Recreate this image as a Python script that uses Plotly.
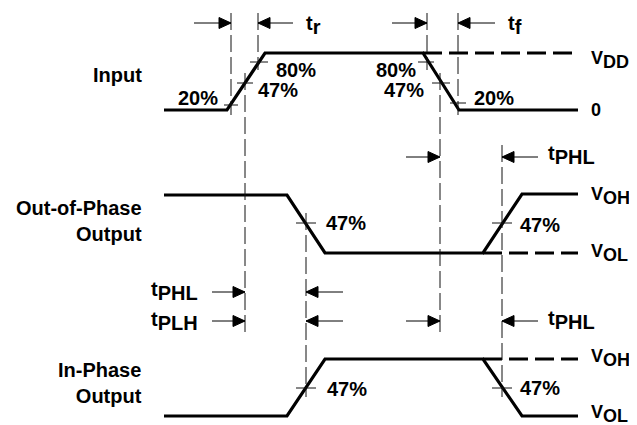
import plotly.graph_objects as go

# waveform breakpoints: time position and level (diagram units, y grows downward)
input_t = [164, 227, 265, 423, 459, 578]
input_v = [110, 110, 53, 53, 110, 110]
outphase_t = [164, 287, 325, 483, 522, 578]
outphase_v = [195, 195, 253, 253, 194, 194]
inphase_t = [164, 287, 325, 483, 522, 578]
inphase_v = [416, 416, 359, 359, 416, 416]

# dashed level continuations: start, end, level
level_ext_start = [423, 483, 483]
level_ext_end = [578, 578, 578]
level_ext_v = [53, 253, 359]

# vertical dashed reference lines: time, top, bottom
ref_t = [231, 245, 258, 427, 440, 458, 306, 502]
ref_top = [13, 73, 13, 13, 73, 13, 213, 145]
ref_bot = [115, 333, 70, 70, 333, 115, 397, 397]

# crossing marks: time, level, half width
cross_t = [231, 245, 259, 426, 441, 458, 306, 502, 306, 502]
cross_v = [105, 83, 62, 62, 83, 103, 223, 223, 388, 388]
cross_w = [7, 8, 9, 8, 9, 8, 10, 10, 10, 10]

# timing arrows: tip time, row, direction (+1 points right), tail time
arrow_tip = [231, 258, 427, 458, 440, 502, 245, 306, 245, 306, 440, 502]
arrow_row = [23, 23, 23, 23, 157, 157, 292, 292, 321, 321, 321, 321]
arrow_dir = [1, -1, 1, -1, 1, -1, 1, -1, 1, -1, 1, -1]
arrow_tail = [194, 293, 392, 495, 406, 538, 212, 343, 212, 343, 406, 538]

FONT = "Liberation Sans, Arial, sans-serif"
fs = 20
vs = 18  # level names on the right edge
PAD = 8  # page body margin, the plot is drawn 8px in from the corner

fig = go.Figure()

for t, v in [(input_t, input_v), (outphase_t, outphase_v), (inphase_t, inphase_v)]:
    fig.add_trace(go.Scatter(x=t, y=v, mode="lines",
                             line=dict(color="black", width=3.2)))

for a, b, v in zip(level_ext_start, level_ext_end, level_ext_v):
    fig.add_trace(go.Scatter(x=[a, b], y=[v, v], mode="lines",
                             line=dict(color="black", width=3.2, dash="19px,7px")))

for t, a, b in zip(ref_t, ref_top, ref_bot):
    fig.add_trace(go.Scatter(x=[t, t], y=[a, b], mode="lines",
                             line=dict(color="#111", width=1, dash="17px,5px")))

for t, v, w in zip(cross_t, cross_v, cross_w):
    fig.add_trace(go.Scatter(x=[t - w, t + w], y=[v, v], mode="lines",
                             line=dict(color="#111", width=1)))

for tip, row, d, tail in zip(arrow_tip, arrow_row, arrow_dir, arrow_tail):
    fig.add_trace(go.Scatter(x=[tail, tip], y=[row, row], mode="lines",
                             line=dict(color="black", width=1)))
    fig.add_trace(go.Scatter(x=[tip, tip - 12 * d, tip - 12 * d, tip],
                             y=[row, row - 5.5, row + 5.5, row],
                             mode="lines", fill="toself", fillcolor="black",
                             line=dict(color="black", width=1)))


def sub(base, s, size=fs):
    return base + "<sub><span style='font-size:%dpx'>%s</span></sub>" % (size, s)


labels = [
    ("Input", 144, 75, "right", fs),
    ("Out-of-Phase<br>Output", 144, 221, "right", fs),
    ("In-Phase<br>Output", 144, 383, "right", fs),
    ("20%", 176, 98, "left", fs),
    ("80%", 274, 70, "left", fs),
    ("47%", 256, 90, "left", fs),
    ("80%", 418, 70, "right", fs),
    ("47%", 426, 90, "right", fs),
    ("20%", 472, 98, "left", fs),
    (sub("V", "DD", vs), 589, 60, "left", vs),
    ("0", 589, 110, "left", vs),
    (sub("t", "r"), 304, 25, "left", fs),
    (sub("t", "f"), 506, 25, "left", fs),
    ("47%", 324, 223, "left", fs),
    ("47%", 518, 225, "left", fs),
    (sub("V", "OH", vs), 589, 196, "left", vs),
    (sub("V", "OL", vs), 589, 253, "left", vs),
    (sub("t", "PHL"), 546, 155, "left", fs),
    (sub("t", "PHL"), 200, 291, "right", fs),
    (sub("t", "PLH"), 200, 321, "right", fs),
    (sub("t", "PHL"), 546, 320, "left", fs),
    ("47%", 325, 389, "left", fs),
    ("47%", 518, 388, "left", fs),
    (sub("V", "OH", vs), 589, 358, "left", vs),
    (sub("V", "OL", vs), 589, 414, "left", vs),
]
for text, x, y, anchor, size in labels:
    fig.add_annotation(x=x, y=y, text="<b>%s</b>" % text, showarrow=False,
                       xanchor=anchor, yanchor="middle", align=anchor,
                       font=dict(family=FONT, size=size, color="black"))

fig.update_layout(
    width=637 - PAD, height=425 - PAD,
    margin=dict(l=0, r=0, t=0, b=0),
    paper_bgcolor="white", plot_bgcolor="white",
    showlegend=False,
)
fig.update_xaxes(range=[PAD, 637], visible=False, fixedrange=True)
fig.update_yaxes(range=[425, PAD], visible=False, fixedrange=True)

fig.write_html("out.html")
